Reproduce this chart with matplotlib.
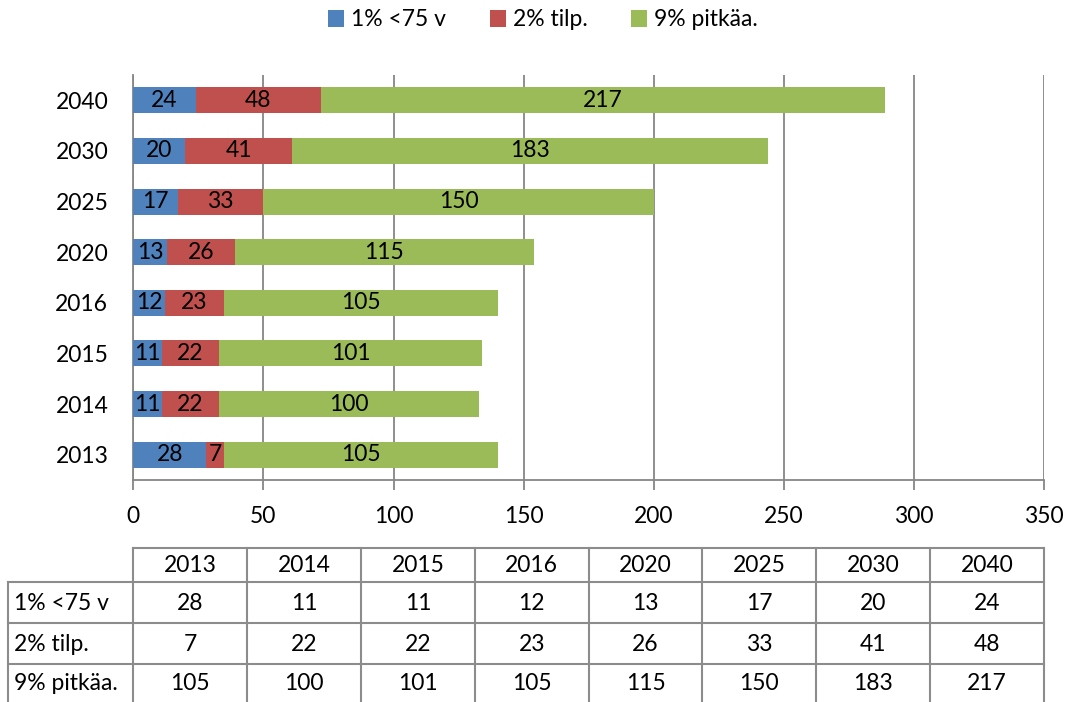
import matplotlib
matplotlib.use("Agg")
import matplotlib.pyplot as plt
from matplotlib.lines import Line2D
import numpy as np

plt.rcParams["font.family"] = ["Lato", "DejaVu Sans"]

years = ["2013", "2014", "2015", "2016", "2020", "2025", "2030", "2040"]
series_names = ["1% <75 v", "2% tilp.", "9% pitkäa."]
under75 = [28, 11, 11, 12, 13, 17, 20, 24]
tilp = [7, 22, 22, 23, 26, 33, 41, 48]
pitkaa = [105, 100, 101, 105, 115, 150, 183, 217]
colors = ["#4F81BD", "#C0504D", "#9BBB59"]

W, H = 1070, 702
fig = plt.figure(figsize=(W / 100, H / 100), dpi=100)
fs = 16.5
grid_c = "#868686"

ax = fig.add_axes([133.3 / W, 1 - 480 / H, (1044 - 133.3) / W, (480 - 75) / H])
y = np.arange(len(years))
left = np.zeros(len(years))
for vals, c, name in zip([under75, tilp, pitkaa], colors, series_names):
    bars = ax.barh(y, vals, left=left, height=0.514, color=c, label=name, zorder=3)
    ax.bar_label(bars, labels=[str(v) for v in vals], label_type="center", fontsize=fs)
    left = left + np.array(vals)

ax.set_xlim(0, 350)
ax.set_ylim(-0.5, len(years) - 0.5)
ax.set_xticks(range(0, 351, 50))
ax.set_yticks(y)
ax.set_yticklabels(years)
ax.xaxis.grid(True, color=grid_c, lw=1.3, zorder=0)
for s in ["top", "right"]:
    ax.spines[s].set_visible(False)
for s in ["left", "bottom"]:
    ax.spines[s].set_color(grid_c)
    ax.spines[s].set_linewidth(1.3)
ax.tick_params(axis="y", length=0, labelsize=fs, pad=18)
ax.tick_params(axis="x", length=7, width=1.3, color=grid_c, labelsize=fs, pad=12)

leg = fig.legend(loc="center", bbox_to_anchor=(543 / W, 1 - 20 / H), ncol=3, frameon=False,
                 fontsize=fs, handlelength=0.7, handleheight=0.7, handletextpad=0.3,
                 columnspacing=1.9)

# data table below the chart
tx = fig.add_axes([0, 0, 1, 1])
tx.set_xlim(0, W)
tx.set_ylim(H, 0)
tx.axis("off")
col_x0, col_x1 = 133.3, 1044
cw = (col_x1 - col_x0) / len(years)
row_y = [548, 582, 623, 664, 705]
lab_x0 = 8
lc = "#8C8C8C"
lw = 1.5
tx.add_line(Line2D([col_x0, col_x1], [row_y[0]] * 2, color=lc, lw=lw))
for yy in row_y[1:]:
    tx.add_line(Line2D([lab_x0, col_x1], [yy] * 2, color=lc, lw=lw))
tx.add_line(Line2D([lab_x0, lab_x0], [row_y[1], row_y[-1]], color=lc, lw=lw))
for i in range(len(years) + 1):
    xx = col_x0 + i * cw
    tx.add_line(Line2D([xx, xx], [row_y[0], row_y[-1]], color=lc, lw=lw))
for i, yr in enumerate(years):
    tx.text(col_x0 + (i + 0.5) * cw, (row_y[0] + row_y[1]) / 2 + 1, yr, ha="center", va="center", fontsize=fs)
for r, (name, vals) in enumerate(zip(series_names, [under75, tilp, pitkaa])):
    yc = (row_y[r + 1] + min(row_y[r + 2], 702)) / 2 + 1
    tx.text(lab_x0 + 6, yc, name, ha="left", va="center", fontsize=fs)
    for i, v in enumerate(vals):
        tx.text(col_x0 + (i + 0.5) * cw, yc, str(v), ha="center", va="center", fontsize=fs)

fig.savefig("out.png", dpi=100)
